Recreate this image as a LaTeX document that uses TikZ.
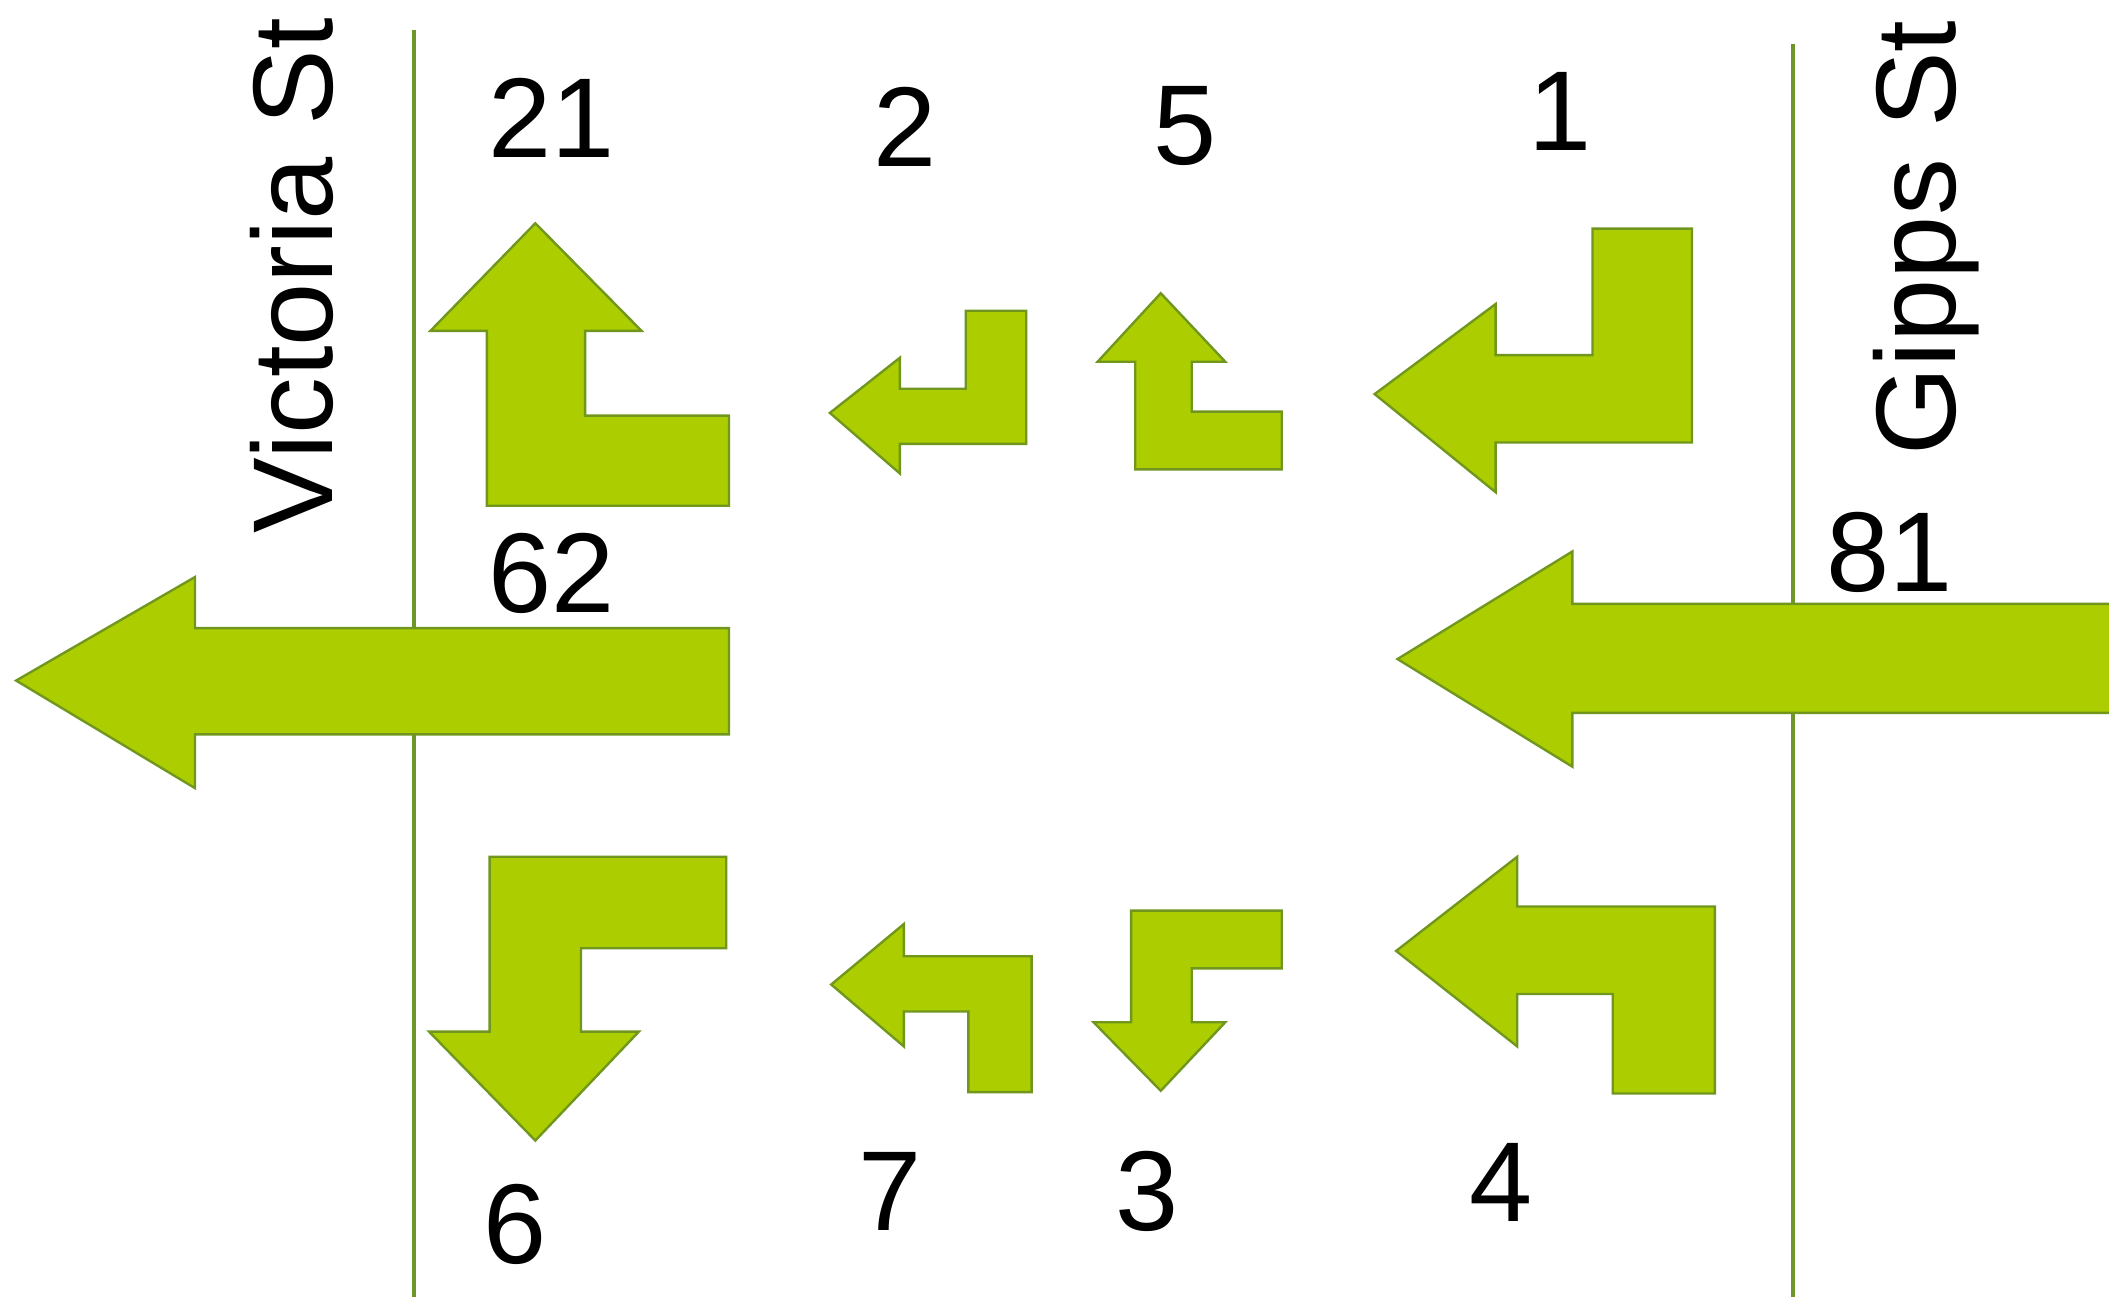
\documentclass[tikz,border=0pt]{standalone}
\usepackage{fontspec}
\setmainfont{Liberation Sans}
\definecolor{arrfill}{RGB}{172,206,0}
\definecolor{arrline}{RGB}{112,150,30}
\definecolor{streetline}{RGB}{110,150,40}
\begin{document}
\begin{tikzpicture}[x=0.01cm,y=-0.01cm,
  turnarrow/.style={fill=arrfill,draw=arrline,line width=0.5pt,line join=miter},
  street/.style={draw=streetline,line width=0.9pt},
  lbl/.style={inner sep=0pt,font=\fontsize{24}{28}\selectfont},
  stname/.style={inner sep=0pt,rotate=90,font=\fontsize{24}{28}\selectfont}]
\useasboundingbox[fill=white] (0,0) rectangle (1568,964);

% street lines
\coordinate (vtop) at (308,22);
\coordinate (vbot) at (308,964);
\coordinate (gtop) at (1333,33);
\coordinate (gbot) at (1333,964);
\draw[street] (vtop) -- (vbot);
\draw[street] (gtop) -- (gbot);

% arrows
% 62 straight left
\draw[turnarrow] (12,506) -- (145,429) -- (145,467) -- (542,467) -- (542,546) -- (145,546) -- (145,586) -- cycle;
% 81 straight left
\draw[turnarrow] (1039,490) -- (1169,410) -- (1169,449) -- (1572,449) -- (1572,530) -- (1169,530) -- (1169,570) -- cycle;
% 21 up
\draw[turnarrow] (398,166) -- (477,246) -- (435,246) -- (435,309) -- (542,309) -- (542,376) -- (362,376) -- (362,246) -- (320,246) -- cycle;
% 2 left, from above
\draw[turnarrow] (617,307) -- (669,266) -- (669,289) -- (718,289) -- (718,231) -- (763,231) -- (763,330) -- (669,330) -- (669,352) -- cycle;
% 5 up
\draw[turnarrow] (863,218) -- (911,269) -- (886,269) -- (886,306) -- (953,306) -- (953,349) -- (844,349) -- (844,269) -- (816,269) -- cycle;
% 1 left, from above
\draw[turnarrow] (1022,293) -- (1112,226) -- (1112,264) -- (1184,264) -- (1184,170) -- (1258,170) -- (1258,329) -- (1112,329) -- (1112,366) -- cycle;
% 6 down
\draw[turnarrow] (364,637) -- (540,637) -- (540,705) -- (432,705) -- (432,767) -- (475,767) -- (398,848) -- (319,767) -- (364,767) -- cycle;
% 7 left, from below
\draw[turnarrow] (618,732) -- (672,687) -- (672,711) -- (767,711) -- (767,812) -- (720,812) -- (720,752) -- (672,752) -- (672,778) -- cycle;
% 3 down
\draw[turnarrow] (841,677) -- (953,677) -- (953,720) -- (886,720) -- (886,760) -- (911,760) -- (863,811) -- (813,760) -- (841,760) -- cycle;
% 4 left, from below
\draw[turnarrow] (1038,707) -- (1128,637) -- (1128,674) -- (1275,674) -- (1275,813) -- (1199,813) -- (1199,739) -- (1128,739) -- (1128,778) -- cycle;

% street names
\node[stname] (victoria) at (217,205) {Victoria St};
\node[stname] (gipps) at (1432,177) {Gipps St};

% labels
\node[lbl] (l21) at (410,88) {21};
\node[lbl] (l2) at (673,94) {2};
\node[lbl] (l5) at (881,94) {5};
\node[lbl] (l1) at (1160,83) {1};
\node[lbl] (l62) at (410,426) {62};
\node[lbl] (l81) at (1405,411) {81};
\node[lbl] (l6) at (383,910) {6};
\node[lbl] (l7) at (662,886) {7};
\node[lbl] (l3) at (853,886) {3};
\node[lbl] (l4) at (1116,879) {4};
\end{tikzpicture}
\end{document}
